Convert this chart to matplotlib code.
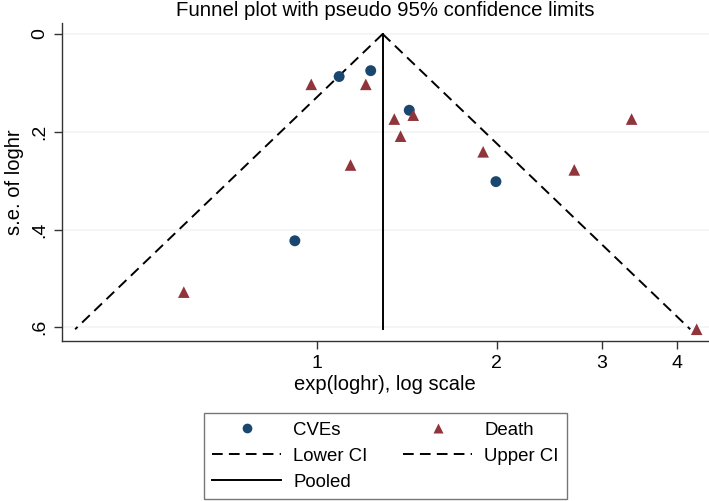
import numpy as np
import matplotlib
matplotlib.use("Agg")
import matplotlib.pyplot as plt
from matplotlib.lines import Line2D

plt.rcParams['font.family'] = ['Liberation Sans', 'DejaVu Sans']

# ---- data ----
cve_hr = [1.091, 1.232, 1.429, 1.995, 0.920]
cve_se = [0.087, 0.075, 0.156, 0.302, 0.423]

death_hr = [0.980, 1.209, 1.451, 1.349, 1.382, 1.140, 1.899, 0.600, 3.363, 2.697, 4.32]
death_se = [0.103, 0.103, 0.166, 0.174, 0.209, 0.268, 0.241, 0.528, 0.174, 0.278, 0.604]

pooled_hr = 1.29
se_max = 0.604
z = 1.96

x_ticks = [1, 2, 3, 4]
x_ticklabels = ["1", "2", "3", "4"]
y_ticks = [0, 0.2, 0.4, 0.6]
y_ticklabels = ["0", ".2", ".4", ".6"]

navy = "#1a476f"
maroon = "#90353b"
dash = (0, (5.5, 3.2))

fig = plt.figure(figsize=(7.09, 5.01), dpi=100)
W, H = 709, 501
ax = fig.add_axes([61.7 / W, 1 - 341 / H, 1 - 61.7 / W, (341 - 23) / H])

# funnel lines
se_line = np.array([0.0, se_max])
theta = np.log(pooled_hr)
lower = np.exp(theta - z * se_line)
upper = np.exp(theta + z * se_line)

for yv in y_ticks:
    ax.axhline(yv, color="#f0f5f5", lw=1.2, zorder=0)

ax.plot(lower, se_line, color="black", lw=1.4, ls=dash, zorder=2)
ax.plot(upper, se_line, color="black", lw=1.4, ls=dash, zorder=2)
ax.plot([pooled_hr, pooled_hr], se_line, color="black", lw=1.4, zorder=2)

ax.scatter(cve_hr, cve_se, marker="o", s=62, color=navy, edgecolors="none", zorder=3)
ax.scatter(death_hr, death_se, marker="^", s=70, color=maroon, edgecolors="none", zorder=3)

ax.set_xscale("log")
ax.set_xlim(0.375, 4.53)
ax.set_ylim(0.628, -0.0225)

ax.set_xticks(x_ticks)
ax.set_xticklabels(x_ticklabels, fontsize=14)
ax.xaxis.set_minor_locator(matplotlib.ticker.NullLocator())
ax.set_yticks(y_ticks)
ax.set_yticklabels(y_ticklabels, fontsize=14, rotation=90, va="center")
ax.tick_params(axis="both", length=6, width=1, color="#333333", pad=4)

for s in ["top", "right"]:
    ax.spines[s].set_visible(False)
for s in ["left", "bottom"]:
    ax.spines[s].set_color("#333333")
    ax.spines[s].set_linewidth(1)

ax.set_xlabel("exp(loghr), log scale", fontsize=14.5, labelpad=2)
ax.set_ylabel("s.e. of loghr", fontsize=14.5, labelpad=5)
ax.set_title("Funnel plot with pseudo 95% confidence limits", fontsize=14.7, pad=5)

handles = [
    Line2D([], [], ls="none", marker="o", markersize=7, color=navy, markeredgecolor="none"),
    Line2D([], [], color="black", lw=1.4, ls=dash),
    Line2D([], [], color="black", lw=1.4),
    Line2D([], [], ls="none", marker="^", markersize=7.5, color=maroon, markeredgecolor="none"),
    Line2D([], [], color="black", lw=1.4, ls=dash),
]
labels = ["CVEs", "Lower CI", "Pooled", "Death", "Upper CI"]
leg = fig.legend(handles, labels, ncol=2, loc="lower center",
                 bbox_to_anchor=(385.5 / W, 2 / H), fontsize=13.4,
                 frameon=True, fancybox=False, edgecolor="#555555",
                 handlelength=3.7, handletextpad=0.65, columnspacing=1.9,
                 labelspacing=0.48, borderpad=0.45, borderaxespad=0)
leg.get_frame().set_linewidth(1)

fig.savefig("out.png", dpi=100)
